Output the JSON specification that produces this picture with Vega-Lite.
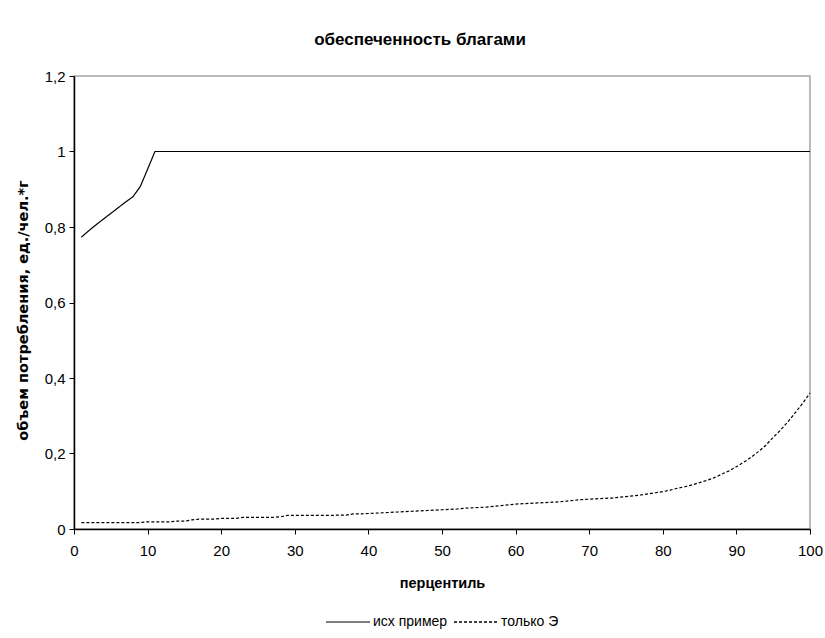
{
  "$schema": "https://vega.github.io/schema/vega-lite/v6.json",
  "autosize": "none",
  "width": 736,
  "height": 453,
  "padding": {"left": 74, "top": 76, "right": 15, "bottom": 109},
  "background": "white",
  "config": {
    "font": "Liberation Sans",
    "view": {"stroke": "#a6a6a6", "strokeWidth": 1.5},
    "axis": {"grid": false, "domainColor": "#000000", "tickColor": "#000000", "labelColor": "#000000", "titleColor": "#000000", "labelFont": "Liberation Sans", "titleFont": "Liberation Sans", "labelFontSize": 15, "titleFontSize": 14.5, "titleFontWeight": "bold", "tickSize": 5, "domainWidth": 1.5}
  },
  "title": {"text": "обеспеченность благами", "font": "Liberation Sans", "fontSize": 17, "fontWeight": "bold", "color": "#000000", "frame": "group", "anchor": "middle", "offset": 20, "dx": -22},
  "datasets": {
    "pts": [
      {"p": 1, "v": 0.773, "s": "исх пример"},
      {"p": 2, "v": 0.79, "s": "исх пример"},
      {"p": 3, "v": 0.806, "s": "исх пример"},
      {"p": 4, "v": 0.821, "s": "исх пример"},
      {"p": 5, "v": 0.836, "s": "исх пример"},
      {"p": 6, "v": 0.851, "s": "исх пример"},
      {"p": 7, "v": 0.866, "s": "исх пример"},
      {"p": 8, "v": 0.88, "s": "исх пример"},
      {"p": 9, "v": 0.907, "s": "исх пример"},
      {"p": 10, "v": 0.953, "s": "исх пример"},
      {"p": 11, "v": 1.0, "s": "исх пример"},
      {"p": 20, "v": 1.0, "s": "исх пример"},
      {"p": 30, "v": 1.0, "s": "исх пример"},
      {"p": 40, "v": 1.0, "s": "исх пример"},
      {"p": 50, "v": 1.0, "s": "исх пример"},
      {"p": 60, "v": 1.0, "s": "исх пример"},
      {"p": 70, "v": 1.0, "s": "исх пример"},
      {"p": 80, "v": 1.0, "s": "исх пример"},
      {"p": 90, "v": 1.0, "s": "исх пример"},
      {"p": 100, "v": 1.0, "s": "исх пример"},
      {"p": 1, "v": 0.017, "s": "только Э"},
      {"p": 2, "v": 0.017, "s": "только Э"},
      {"p": 3, "v": 0.017, "s": "только Э"},
      {"p": 4, "v": 0.017, "s": "только Э"},
      {"p": 5, "v": 0.017, "s": "только Э"},
      {"p": 6, "v": 0.017, "s": "только Э"},
      {"p": 7, "v": 0.017, "s": "только Э"},
      {"p": 8, "v": 0.017, "s": "только Э"},
      {"p": 9, "v": 0.017, "s": "только Э"},
      {"p": 10, "v": 0.019, "s": "только Э"},
      {"p": 11, "v": 0.019, "s": "только Э"},
      {"p": 12, "v": 0.019, "s": "только Э"},
      {"p": 13, "v": 0.019, "s": "только Э"},
      {"p": 14, "v": 0.021, "s": "только Э"},
      {"p": 15, "v": 0.021, "s": "только Э"},
      {"p": 16, "v": 0.024, "s": "только Э"},
      {"p": 17, "v": 0.026, "s": "только Э"},
      {"p": 18, "v": 0.026, "s": "только Э"},
      {"p": 19, "v": 0.026, "s": "только Э"},
      {"p": 20, "v": 0.028, "s": "только Э"},
      {"p": 21, "v": 0.028, "s": "только Э"},
      {"p": 22, "v": 0.028, "s": "только Э"},
      {"p": 23, "v": 0.031, "s": "только Э"},
      {"p": 24, "v": 0.031, "s": "только Э"},
      {"p": 25, "v": 0.031, "s": "только Э"},
      {"p": 26, "v": 0.031, "s": "только Э"},
      {"p": 27, "v": 0.031, "s": "только Э"},
      {"p": 28, "v": 0.032, "s": "только Э"},
      {"p": 29, "v": 0.036, "s": "только Э"},
      {"p": 30, "v": 0.036, "s": "только Э"},
      {"p": 31, "v": 0.036, "s": "только Э"},
      {"p": 32, "v": 0.036, "s": "только Э"},
      {"p": 33, "v": 0.036, "s": "только Э"},
      {"p": 34, "v": 0.036, "s": "только Э"},
      {"p": 35, "v": 0.036, "s": "только Э"},
      {"p": 36, "v": 0.037, "s": "только Э"},
      {"p": 37, "v": 0.037, "s": "только Э"},
      {"p": 38, "v": 0.04, "s": "только Э"},
      {"p": 39, "v": 0.04, "s": "только Э"},
      {"p": 40, "v": 0.041, "s": "только Э"},
      {"p": 41, "v": 0.042, "s": "только Э"},
      {"p": 42, "v": 0.043, "s": "только Э"},
      {"p": 43, "v": 0.044, "s": "только Э"},
      {"p": 44, "v": 0.045, "s": "только Э"},
      {"p": 45, "v": 0.046, "s": "только Э"},
      {"p": 46, "v": 0.047, "s": "только Э"},
      {"p": 47, "v": 0.048, "s": "только Э"},
      {"p": 48, "v": 0.049, "s": "только Э"},
      {"p": 49, "v": 0.05, "s": "только Э"},
      {"p": 50, "v": 0.051, "s": "только Э"},
      {"p": 51, "v": 0.052, "s": "только Э"},
      {"p": 52, "v": 0.053, "s": "только Э"},
      {"p": 53, "v": 0.055, "s": "только Э"},
      {"p": 54, "v": 0.056, "s": "только Э"},
      {"p": 55, "v": 0.057, "s": "только Э"},
      {"p": 56, "v": 0.058, "s": "только Э"},
      {"p": 57, "v": 0.06, "s": "только Э"},
      {"p": 58, "v": 0.062, "s": "только Э"},
      {"p": 59, "v": 0.064, "s": "только Э"},
      {"p": 60, "v": 0.066, "s": "только Э"},
      {"p": 61, "v": 0.067, "s": "только Э"},
      {"p": 62, "v": 0.068, "s": "только Э"},
      {"p": 63, "v": 0.069, "s": "только Э"},
      {"p": 64, "v": 0.07, "s": "только Э"},
      {"p": 65, "v": 0.071, "s": "только Э"},
      {"p": 66, "v": 0.072, "s": "только Э"},
      {"p": 67, "v": 0.074, "s": "только Э"},
      {"p": 68, "v": 0.076, "s": "только Э"},
      {"p": 69, "v": 0.078, "s": "только Э"},
      {"p": 70, "v": 0.079, "s": "только Э"},
      {"p": 71, "v": 0.08, "s": "только Э"},
      {"p": 72, "v": 0.081, "s": "только Э"},
      {"p": 73, "v": 0.082, "s": "только Э"},
      {"p": 74, "v": 0.084, "s": "только Э"},
      {"p": 75, "v": 0.086, "s": "только Э"},
      {"p": 76, "v": 0.088, "s": "только Э"},
      {"p": 77, "v": 0.09, "s": "только Э"},
      {"p": 78, "v": 0.093, "s": "только Э"},
      {"p": 79, "v": 0.096, "s": "только Э"},
      {"p": 80, "v": 0.099, "s": "только Э"},
      {"p": 81, "v": 0.103, "s": "только Э"},
      {"p": 82, "v": 0.108, "s": "только Э"},
      {"p": 83, "v": 0.112, "s": "только Э"},
      {"p": 84, "v": 0.117, "s": "только Э"},
      {"p": 85, "v": 0.123, "s": "только Э"},
      {"p": 86, "v": 0.129, "s": "только Э"},
      {"p": 87, "v": 0.136, "s": "только Э"},
      {"p": 88, "v": 0.145, "s": "только Э"},
      {"p": 89, "v": 0.154, "s": "только Э"},
      {"p": 90, "v": 0.165, "s": "только Э"},
      {"p": 91, "v": 0.177, "s": "только Э"},
      {"p": 92, "v": 0.19, "s": "только Э"},
      {"p": 93, "v": 0.205, "s": "только Э"},
      {"p": 94, "v": 0.222, "s": "только Э"},
      {"p": 95, "v": 0.243, "s": "только Э"},
      {"p": 96, "v": 0.262, "s": "только Э"},
      {"p": 97, "v": 0.284, "s": "только Э"},
      {"p": 98, "v": 0.308, "s": "только Э"},
      {"p": 99, "v": 0.333, "s": "только Э"},
      {"p": 100, "v": 0.36, "s": "только Э"}
    ]
  },
  "data": {"name": "pts"},
  "mark": {"type": "line", "color": "#000000", "strokeWidth": 1.2, "clip": false},
  "encoding": {
    "x": {
      "field": "p", "type": "quantitative",
      "scale": {"domain": [0, 100], "nice": false, "zero": true},
      "axis": {"title": "перцентиль", "values": [0, 10, 20, 30, 40, 50, 60, 70, 80, 90, 100], "labelPadding": 9, "titlePadding": 18, "labelFlush": false}
    },
    "y": {
      "field": "v", "type": "quantitative",
      "scale": {"domain": [0, 1.2], "nice": false},
      "axis": {"title": "объем потребления, ед./чел.*г", "titleFont": "DejaVu Sans", "titleFontSize": 14.5, "titleY": 234, "values": [0, 0.2, 0.4, 0.6, 0.8, 1, 1.2], "labelExpr": "replace(format(datum.value, '~r'), '.', ',')", "labelPadding": 4, "titlePadding": 14, "labelFlush": false}
    },
    "strokeDash": {
      "field": "s", "type": "nominal",
      "scale": {"domain": ["исх пример", "только Э"], "range": [[1, 0], [3, 2]]},
      "legend": {"title": null, "orient": "none", "legendX": 251, "legendY": 523, "direction": "horizontal", "symbolType": "stroke", "symbolSize": 1936, "symbolStrokeWidth": 1.5, "symbolStrokeColor": "#000000", "labelFont": "Liberation Sans", "labelFontSize": 14, "labelColor": "#000000", "columnPadding": 2, "labelOffset": 2, "padding": 0}
    },
    "strokeWidth": {
      "field": "s", "type": "nominal",
      "scale": {"domain": ["исх пример", "только Э"], "range": [1.2, 1.6]},
      "legend": null
    }
  }
}
